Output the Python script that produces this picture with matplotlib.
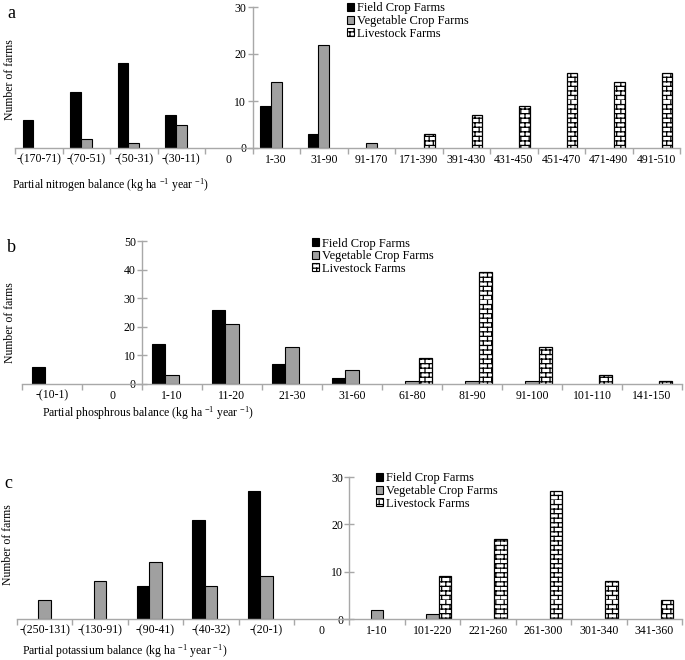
import warnings
import numpy as np
import matplotlib
matplotlib.use("Agg")
import matplotlib.pyplot as plt
import matplotlib.hatch as mhatch
from matplotlib.path import Path
from matplotlib.patches import Patch

warnings.filterwarnings("ignore")

# ---------------- data ----------------
series_names = ["Field Crop Farms", "Vegetable Crop Farms", "Livestock Farms"]

n_cats = ["-(170-71)", "-(70-51)", "-(50-31)", "-(30-11)", "0", "1-30", "31-90",
          "91-170", "171-390", "391-430", "431-450", "451-470", "471-490", "491-510"]
n_field = [6, 12, 18, 7, 0, 9, 3, 0, 0, 0, 0, 0, 0, 0]
n_veg = [0, 2, 1, 5, 0, 14, 22, 1, 0, 0, 0, 0, 0, 0]
n_live = [0, 0, 0, 0, 0, 0, 0, 0, 3, 7, 9, 16, 14, 16]

p_cats = ["-(10-1)", "0", "1-10", "11-20", "21-30", "31-60", "61-80", "81-90",
          "91-100", "101-110", "141-150"]
p_field = [6, 0, 14, 26, 7, 2, 0, 0, 0, 0, 0]
p_veg = [0, 0, 3, 21, 13, 5, 1, 1, 1, 0, 0]
p_live = [0, 0, 0, 0, 0, 0, 9, 39, 13, 3, 1]

k_cats = ["-(250-131)", "-(130-91)", "-(90-41)", "-(40-32)", "-(20-1)", "0", "1-10",
          "101-220", "221-260", "261-300", "301-340", "341-360"]
k_field = [0, 0, 7, 21, 27, 0, 0, 0, 0, 0, 0, 0]
k_veg = [4, 8, 12, 7, 9, 0, 2, 1, 0, 0, 0, 0]
k_live = [0, 0, 0, 0, 0, 0, 0, 9, 17, 27, 8, 4]

n_yticks = [0, 10, 20, 30]
p_yticks = [0, 10, 20, 30, 40, 50]
k_yticks = [0, 10, 20, 30]


# ---------------- brick hatch ----------------
class BrickHatch(mhatch.HatchPatternBase):
    def __init__(self, hatch, density):
        n = hatch.count('b')
        self.rows = 22 * n
        self.cols = 12 * n
        if n:
            self.num_vertices = self.rows * 2 + self.rows * self.cols * 2
        else:
            self.num_vertices = 0

    def set_vertices_and_codes(self, vertices, codes):
        i = 0
        for r in range(self.rows):
            y0 = r / self.rows
            y1 = (r + 1) / self.rows
            vertices[i] = (0.0, y0)
            vertices[i + 1] = (1.0, y0)
            codes[i] = Path.MOVETO
            codes[i + 1] = Path.LINETO
            i += 2
            off = 0.0 if r % 2 == 0 else 0.5
            for c in range(self.cols):
                x = (c + off) / self.cols
                vertices[i] = (x, y0)
                vertices[i + 1] = (x, y1)
                codes[i] = Path.MOVETO
                codes[i + 1] = Path.LINETO
                i += 2


mhatch._hatch_types.append(BrickHatch)

plt.rcParams['font.family'] = ['Liberation Serif', 'DejaVu Serif']
plt.rcParams['mathtext.fontset'] = 'custom'
plt.rcParams['mathtext.rm'] = 'Liberation Serif'
plt.rcParams['mathtext.it'] = 'Liberation Serif:italic'
plt.rcParams['hatch.linewidth'] = 0.9
plt.rcParams['hatch.color'] = 'black'

W, H = 685, 660
fig = plt.figure(figsize=(W / 100, H / 100), dpi=100)

SPINE = '#a8a8a8'
VEG = '#a0a0a0'
BW = 0.225


def fx(px):
    return px / W


def fy(py):
    return 1 - py / H


def panel(cats, field, veg, live, yticks, left, right, ytop, ybot, ycross):
    ax = fig.add_axes([fx(left), fy(ybot), fx(right - left), (ybot - ytop) / H])
    x = np.arange(len(cats))
    field = np.array(field)
    veg = np.array(veg)
    live = np.array(live)
    m = field > 0
    ax.bar(x[m] - BW, field[m], BW, color='black', edgecolor='black', linewidth=0.8)
    m = veg > 0
    ax.bar(x[m], veg[m], BW, color=VEG, edgecolor='black', linewidth=0.8)
    m = live > 0
    ax.bar(x[m] + BW, live[m], BW, color='white', edgecolor='black', linewidth=0.9,
           hatch='b')
    ax.set_xlim(-0.5, len(cats) - 0.5)
    ax.set_ylim(yticks[0], yticks[-1])
    for s in ['top', 'right']:
        ax.spines[s].set_visible(False)
    ax.spines['left'].set_position(('data', ycross))
    ax.spines['left'].set_color(SPINE)
    ax.spines['bottom'].set_color(SPINE)
    ax.spines['left'].set_linewidth(1.0)
    ax.spines['bottom'].set_linewidth(1.0)
    ax.set_yticks(yticks)
    ax.set_yticklabels([str(t) for t in yticks], fontsize=8.5)
    ax.tick_params(axis='y', direction='inout', length=7, width=1.0, color=SPINE, pad=1)
    ax.set_xticks(x)
    ax.set_xticklabels(cats, fontsize=8.5)
    ax.tick_params(axis='x', which='major', length=0, pad=4)
    ax.set_xticks(np.arange(len(cats) + 1) - 0.5, minor=True)
    ax.tick_params(axis='x', which='minor', direction='out', length=4, width=1.0,
                   color=SPINE)
    ax.patch.set_alpha(0)
    return ax


panel(n_cats, n_field, n_veg, n_live, n_yticks, 15, 680, 7, 148, 4.5)
panel(p_cats, p_field, p_veg, p_live, p_yticks, 22, 682, 241, 384, 1.5)
panel(k_cats, k_field, k_veg, k_live, k_yticks, 17, 682, 477, 619, 5.5)

unit = r' (kg ha $^{-1}$ year $^{-1}$)'
fig.text(fx(12), fy(185), 'Partial nitrogen balance' + unit, fontsize=8.5,
         ha='left', va='center')
fig.text(fx(42), fy(413), 'Partial phosphrous balance' + unit, fontsize=8.5,
         ha='left', va='center')
fig.text(fx(22), fy(651), 'Partial potassium balance' + unit, fontsize=8.5,
         ha='left', va='center')

for lab, px, py in [('a', 11, 14), ('b', 11, 248), ('c', 8, 483)]:
    fig.text(fx(px), fy(py), lab, fontsize=13, ha='center', va='center')

for px, py in [(10, 80), (10, 323), (8, 545)]:
    fig.text(fx(px), fy(py), 'Number of farms', fontsize=8.5, rotation=90,
             ha='center', va='center')

handles = [Patch(facecolor='black', edgecolor='black', linewidth=0.8),
           Patch(facecolor=VEG, edgecolor='black', linewidth=0.8),
           Patch(facecolor='white', edgecolor='black', linewidth=0.8, hatch='b')]

for px, py in [(344, 0), (309, 235), (373, 470)]:
    fig.legend(handles, series_names, loc='upper left',
               bbox_to_anchor=(fx(px), fy(py)), bbox_transform=fig.transFigure,
               frameon=False, fontsize=9, handlelength=0.6, handleheight=0.6,
               handletextpad=0.25, labelspacing=0.05, borderpad=0.2,
               borderaxespad=0)

fig.savefig('out.png', dpi=100)
